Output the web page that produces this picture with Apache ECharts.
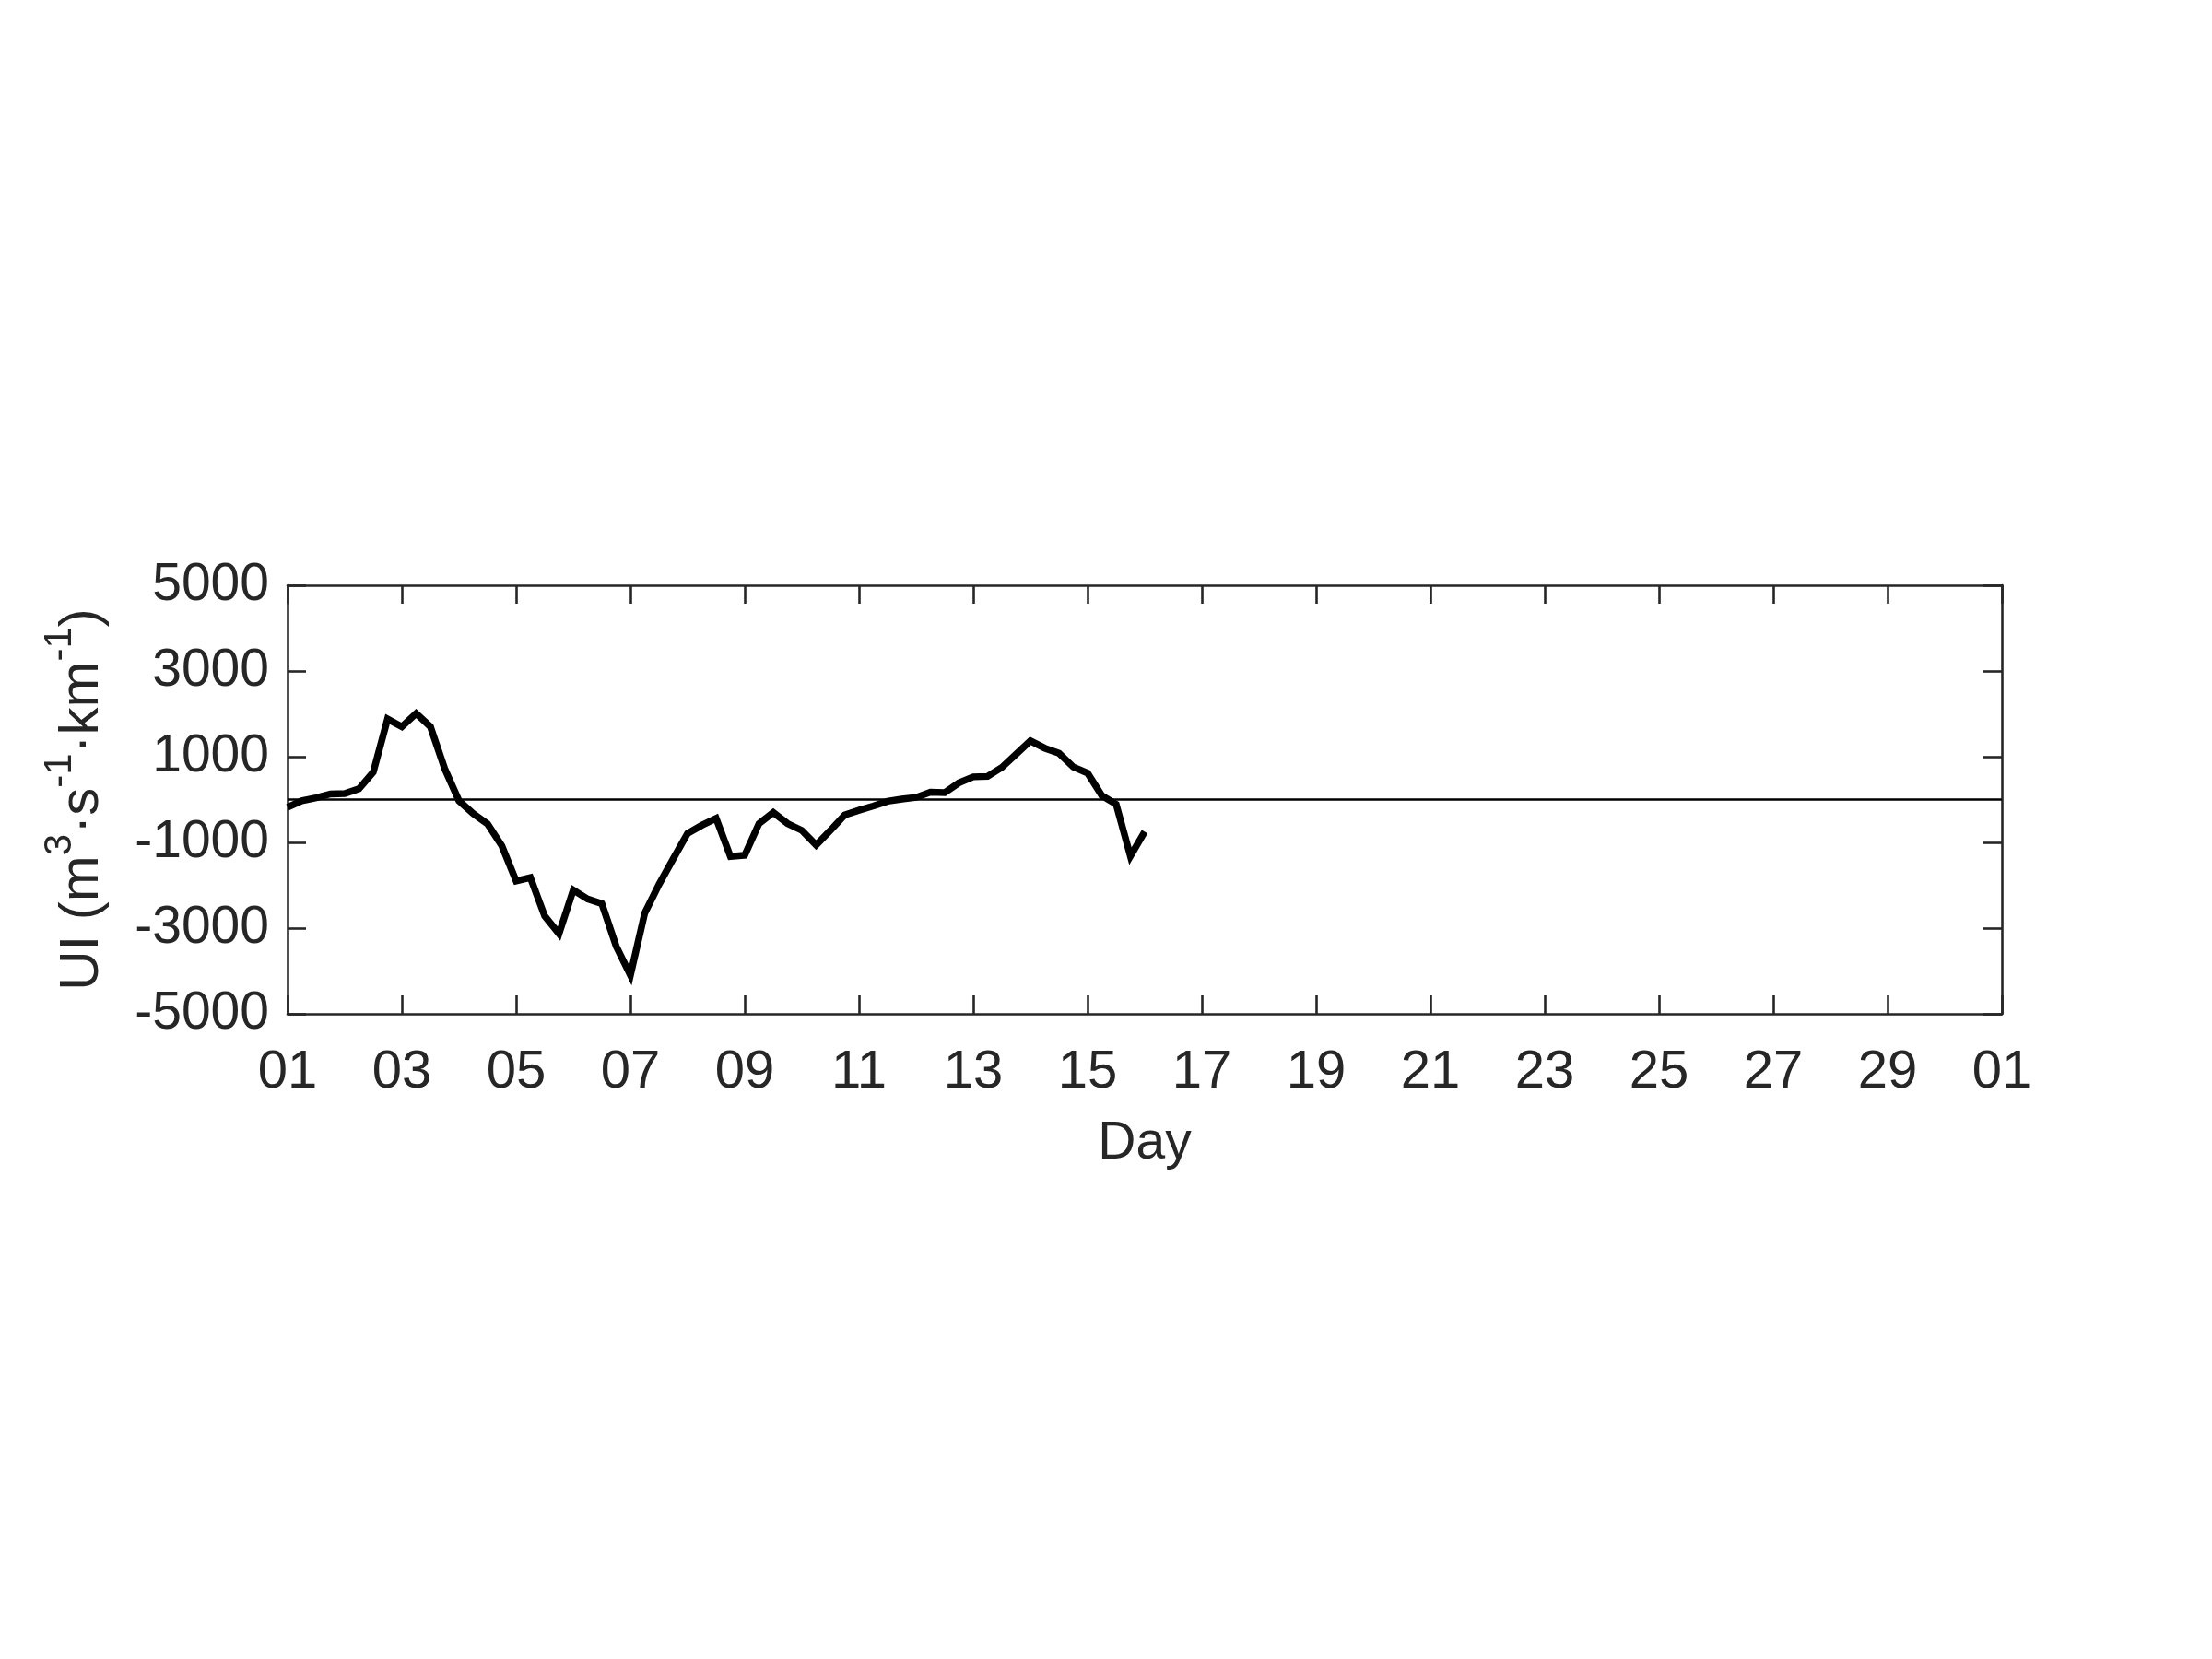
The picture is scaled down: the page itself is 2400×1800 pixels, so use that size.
<!DOCTYPE html>
<html>
<head>
<meta charset="utf-8">
<script src="https://cdn.jsdelivr.net/npm/echarts@6/dist/echarts.min.js"></script>
<style>
  html, body { margin: 0; padding: 0; background: #fff; }
  #chart { width: 2400px; height: 1800px; }
</style>
</head>
<body>
<div id="chart"></div>
<script>
// Time in days (6-hourly samples)
const days = [
  1.00, 1.25, 1.50, 1.75, 2.00, 2.25, 2.50, 2.75, 3.00, 3.25, 3.50, 3.75,
  4.00, 4.25, 4.50, 4.75, 5.00, 5.25, 5.50, 5.75, 6.00, 6.25, 6.50, 6.75,
  7.00, 7.25, 7.50, 7.75, 8.00, 8.25, 8.50, 8.75, 9.00, 9.25, 9.50, 9.75,
  10.00, 10.25, 10.50, 10.75, 11.00, 11.25, 11.50, 11.75, 12.00, 12.25, 12.50, 12.75,
  13.00, 13.25, 13.50, 13.75, 14.00, 14.25, 14.50, 14.75, 15.00, 15.25, 15.50, 15.75,
  16.00
];
// Upwelling index values
const uiValues = [
  -180, -30, 40, 130, 140, 250, 640, 1880, 1700, 2010, 1700, 720,
  -30, -330, -570, -1080, -1900, -1820, -2720, -3130, -2110, -2320, -2430, -3420,
  -4100, -2650, -1980, -1380, -790, -600, -440, -1330, -1300, -560, -300, -560,
  -720, -1060, -720, -360, -250, -150, -40, 10, 50, 170, 160, 390,
  530, 540, 750, 1060, 1370, 1200, 1080, 760, 620, 90, -110, -1320,
  -750
];
const xTickLabels = ['01','03','05','07','09','11','13','15','17','19','21','23','25','27','29','01'];
const yTickLabels = ['-5000','-3000','-1000','1000','3000','5000'];
const xAxisTitle = 'Day';

const TXT = '#262626';
const FONT = 'Liberation Sans, Arial, Helvetica, sans-serif';

const chart = echarts.init(document.getElementById('chart'), null, { renderer: 'canvas', width: 2400, height: 1800 });

const axisLineStyle = { show: true, onZero: false, lineStyle: { color: TXT, width: 2.6 } };
const tickStyle = { show: true, inside: true, length: 20, lineStyle: { color: TXT, width: 2.6 } };

const xCommon = { type: 'value', min: 1, max: 31, interval: 2, splitLine: { show: false } };
const yCommon = { type: 'value', min: -5000, max: 5000, interval: 2000, splitLine: { show: false } };

const option = {
  backgroundColor: '#ffffff',
  animation: false,
  grid: { left: 312, right: 228, top: 635, bottom: 700, containLabel: false },
  xAxis: [
    Object.assign({}, xCommon, {
      position: 'bottom',
      axisLine: axisLineStyle,
      axisTick: tickStyle,
      axisLabel: {
        show: true, margin: 35, color: TXT, fontSize: 58, fontFamily: FONT,
        formatter: v => xTickLabels[Math.round((v - 1) / 2)]
      },
      name: xAxisTitle,
      nameLocation: 'middle',
      nameGap: 113,
      nameTextStyle: { color: TXT, fontSize: 57, fontFamily: FONT }
    }),
    Object.assign({}, xCommon, {
      position: 'top',
      axisLine: axisLineStyle,
      axisTick: tickStyle,
      axisLabel: { show: false }
    })
  ],
  yAxis: [
    Object.assign({}, yCommon, {
      position: 'left',
      axisLine: axisLineStyle,
      axisTick: tickStyle,
      axisLabel: {
        show: true, margin: 20, color: TXT, fontSize: 57, fontFamily: FONT,
        formatter: v => yTickLabels[Math.round((v + 5000) / 2000)]
      },
      name: 'UI (m{sup|3}·s{sup|-1}·km{sup|-1})',
      nameLocation: 'middle',
      nameGap: 149,
      nameRotate: 90,
      nameTextStyle: {
        color: TXT, fontSize: 60, fontFamily: FONT, lineHeight: 91,
        rich: {
          sup: { color: TXT, fontSize: 42, fontFamily: FONT, lineHeight: 42, verticalAlign: 'top' }
        }
      }
    }),
    Object.assign({}, yCommon, {
      position: 'right',
      axisLine: axisLineStyle,
      axisTick: tickStyle,
      axisLabel: { show: false }
    })
  ],
  series: [
    {
      type: 'line',
      xAxisIndex: 0,
      yAxisIndex: 0,
      data: days.map((d, i) => [d, uiValues[i]]),
      showSymbol: false,
      symbol: 'none',
      lineStyle: { color: '#000000', width: 7.5, join: 'miter' },
      itemStyle: { color: '#000000' },
      z: 3,
      markLine: {
        silent: true,
        symbol: ['none', 'none'],
        label: { show: false },
        lineStyle: { color: '#000000', width: 2.7, type: 'solid' },
        data: [{ yAxis: 0 }],
        animation: false
      }
    }
  ]
};

chart.setOption(option);
</script>
</body>
</html>
